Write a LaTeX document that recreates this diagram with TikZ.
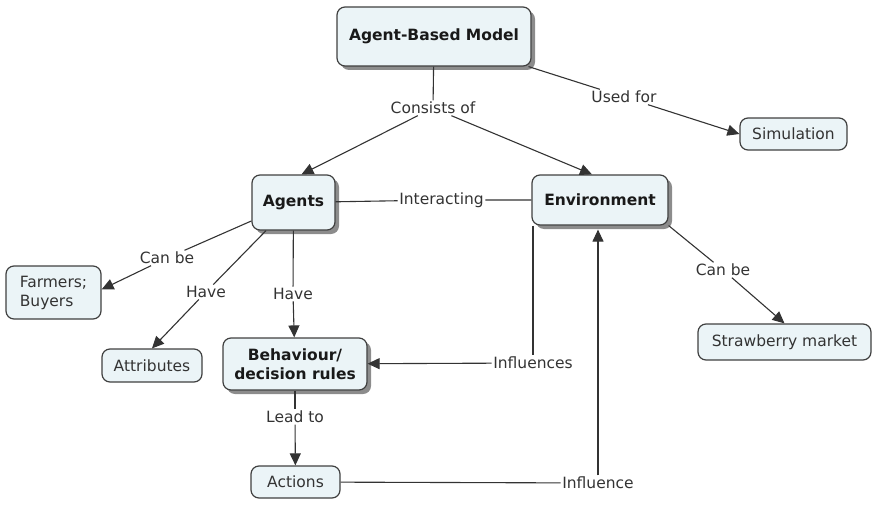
\documentclass[tikz,border=0pt]{standalone}
\usepackage{fontspec}
\setmainfont{DejaVu Sans}
\usetikzlibrary{arrows.meta,shadows}
\definecolor{boxblue}{HTML}{EBF4F7}

\begin{document}
\begin{tikzpicture}[x=1pt,y=-1pt,
  font=\fontsize{15.5}{19}\selectfont,
  concept/.style={draw=black!75, fill=boxblue, rounded corners=8pt, line width=1.2pt,
    align=center, text=black!80, inner sep=0pt},
  main/.style={concept, font=\fontsize{15.5}{19}\selectfont\bfseries, text=black!90,
    drop shadow={shadow xshift=4pt, shadow yshift=-4pt, fill=black!45, opacity=1}},
  link/.style={text=black!80, inner sep=1.5pt},
  conn/.style={draw=black!80, line width=1.1pt},
  arr/.style={conn, -{Triangle[length=12pt,width=11pt]}}]
  \useasboundingbox (0,0) rectangle (878,511);
  % concepts
  \node[main, minimum width=194pt, minimum height=59pt] (abm) at (434,36.5) {Agent-Based Model};
  \node[concept, minimum width=107pt, minimum height=32pt] (sim) at (793.5,134) {Simulation};
  \node[main, minimum width=83pt, minimum height=55pt] (agents) at (293.5,202.5) {Agents};
  \node[main, minimum width=136pt, minimum height=50pt] (env) at (600,200) {Environment};
  \node[concept, minimum width=95pt, minimum height=53pt, align=left] (farmers) at (53.5,292.5) {Farmers;\\Buyers};
  \node[concept, minimum width=100pt, minimum height=33pt] (attr) at (152,365.5) {Attributes};
  \node[main, minimum width=144pt, minimum height=52pt] (beh) at (295,364) {Behaviour/\\decision rules};
  \node[concept, minimum width=173pt, minimum height=36pt] (straw) at (784.5,342) {Strawberry market};
  \node[concept, minimum width=89pt, minimum height=32pt] (actions) at (295.5,482) {Actions};
  % linking phrases
  \node[link] (cons) at (433,108) {Consists of};
  \node[link] (used) at (624,97) {Used for};
  \node[link] (inter) at (441.5,200) {Interacting};
  \node[link] (canL) at (167,258) {Can be};
  \node[link] (haveL) at (206,292) {Have};
  \node[link] (haveM) at (293,294) {Have};
  \node[link] (canR) at (723,270) {Can be};
  \node[link] (infls) at (533,363) {Influences};
  \node[link] (lead) at (295,417) {Lead to};
  \node[link] (infl) at (598,483) {Influence};
  \coordinate (envfoot) at ([yshift=-4pt]env.south);
  % connectors
  \draw[conn] (abm) -- (cons);
  \draw[arr] (cons) -- ([xshift=8pt]agents.north);
  \draw[arr] (cons) -- ([xshift=-8pt]env.north);
  \draw[conn] (abm) -- (used);
  \draw[arr] (used) -- (sim.west);
  \draw[conn] (agents) -- (inter) -- (env);
  \draw[conn] (agents) -- (canL);
  \draw[arr] (canL) -- ([yshift=3pt]farmers.east);
  \draw[conn] (agents) -- (haveL);
  \draw[arr] (haveL) -- (attr.north);
  \draw[conn] (agents) -- (haveM);
  \draw[arr] (haveM) -- (beh);
  \draw[conn] (beh) -- (lead);
  \draw[arr] (lead) -- (actions);
  \draw[conn] (infls |- env.south) -- (infls);
  \draw[arr] (infls) -- (beh);
  \draw[conn] (actions) -- (infl);
  \draw[arr] (infl) -- (infl |- envfoot);
  \draw[conn] (env.south east) -- (canR);
  \draw[arr] (canR) -- (straw.north);
\end{tikzpicture}
\end{document}
